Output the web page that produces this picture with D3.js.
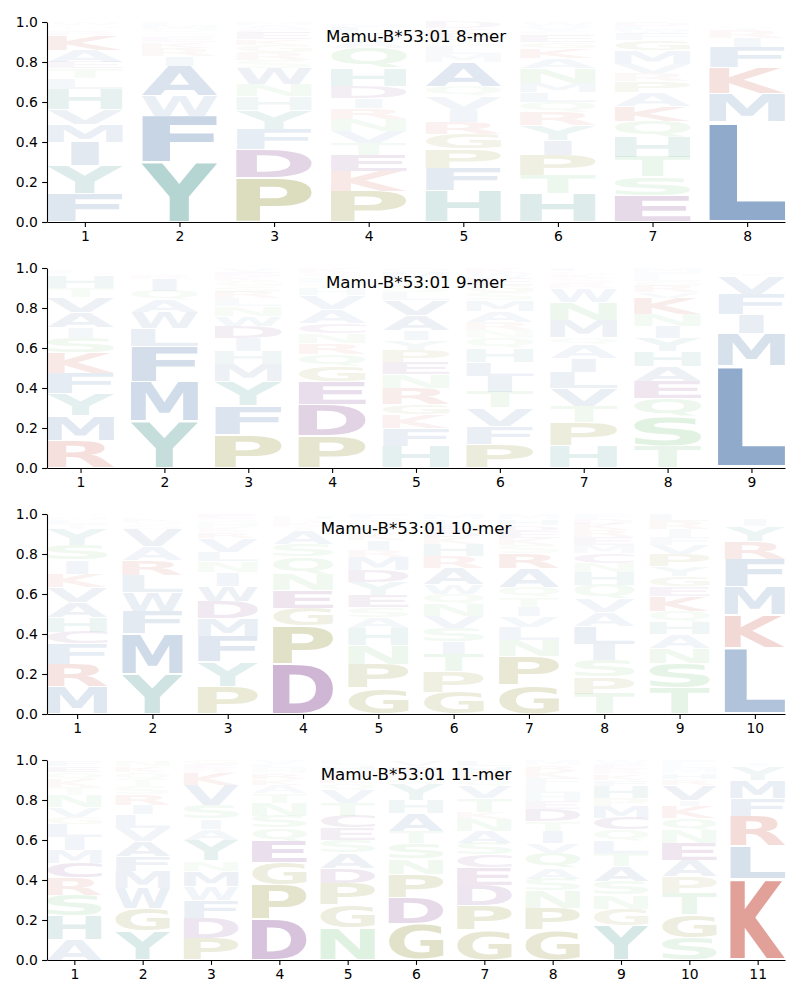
<!DOCTYPE html>
<html><head><meta charset="utf-8">
<script src="https://cdn.jsdelivr.net/npm/d3@7"></script>
<style>body{margin:0;background:#fff}svg{display:block}</style>
</head><body>
<svg id="chart" width="800" height="1000"></svg>
<script>
// ---- data: each position lists [residue, probability] from bottom to top ----
const titles = ["Mamu-B*53:01 8-mer","Mamu-B*53:01 9-mer","Mamu-B*53:01 10-mer","Mamu-B*53:01 11-mer"];
const yTicks = [0,0.2,0.4,0.6,0.8,1.0];

const mer8 = [
 [["F",.14],["Y",.14],["I",.12],["M",.09],["V",.075],["H",.10],["L",.055],["T",.05],["E",.03],["A",.06],["K",.075],["R",.02],["S",.015],["G",.015],["W",.015]],
 [["Y",.30],["F",.23],["W",.10],["A",.15],["I",.05],["R",.04],["K",.03],["E",.025],["S",.02],["Q",.02],["M",.02],["L",.015]],
 [["P",.22],["D",.145],["F",.10],["Y",.095],["H",.07],["N",.06],["W",.08],["S",.04],["R",.04],["G",.035],["K",.03],["E",.03],["C",.02],["A",.02],["M",.015]],
 [["P",.155],["K",.10],["E",.08],["T",.06],["V",.06],["N",.06],["R",.055],["I",.05],["D",.06],["H",.09],["Q",.10],["A",.04],["S",.03],["L",.03],["M",.02],["F",.01]],
 [["H",.155],["F",.115],["P",.095],["G",.075],["R",.06],["I",.06],["V",.07],["Q",.045],["A",.125],["M",.04],["L",.04],["S",.03],["E",.03],["K",.03],["D",.03]],
 [["H",.14],["T",.095],["P",.10],["I",.075],["Y",.075],["R",.065],["Q",.05],["L",.05],["M",.045],["N",.075],["A",.05],["K",.05],["G",.03],["E",.03],["S",.025],["V",.025],["W",.02]],
 [["E",.13],["S",.095],["T",.10],["H",.10],["Q",.08],["K",.075],["A",.07],["P",.055],["R",.04],["V",.045],["M",.07],["G",.05],["F",.03],["W",.02],["L",.02],["D",.02]],
 [["L",.50],["M",.14],["K",.13],["F",.105],["I",.045],["R",.04],["Y",.015],["V",.01],["Q",.01],["A",.005]]
];
const mer9 = [
 [["R",.135],["M",.125],["Y",.11],["F",.105],["K",.10],["S",.075],["I",.055],["A",.075],["V",.075],["T",.045],["H",.06],["Q",.015],["L",.015],["N",.01]],
 [["Y",.235],["M",.195],["F",.18],["L",.09],["W",.08],["A",.06],["Q",.045],["I",.06],["R",.02],["S",.015],["K",.01],["N",.01]],
 [["P",.165],["F",.145],["Y",.125],["M",.085],["H",.065],["I",.065],["D",.06],["W",.05],["N",.05],["L",.04],["R",.03],["S",.03],["G",.025],["K",.025],["E",.02],["V",.02]],
 [["P",.16],["D",.155],["E",.115],["G",.08],["Q",.06],["R",.055],["N",.05],["C",.05],["A",.07],["V",.07],["H",.03],["T",.03],["L",.025],["S",.025],["K",.025]],
 [["H",.11],["F",.09],["K",.07],["G",.05],["R",.08],["N",.07],["E",.06],["P",.06],["Y",.05],["I",.05],["A",.075],["V",.075],["L",.04],["S",.035],["T",.03],["M",.03],["Q",.025]],
 [["P",.12],["F",.09],["V",.09],["T",.08],["I",.08],["L",.07],["H",.07],["Q",.05],["N",.04],["R",.04],["A",.055],["M",.055],["S",.04],["G",.035],["E",.035],["W",.025],["K",.025]],
 [["H",.11],["P",.115],["T",.085],["V",.09],["L",.08],["I",.07],["A",.07],["Q",.035],["M",.085],["N",.09],["W",.07],["R",.025],["S",.025],["K",.02],["G",.015],["E",.015]],
 [["T",.11],["S",.15],["Q",.09],["E",.085],["A",.075],["H",.075],["Y",.065],["I",.06],["N",.06],["K",.08],["V",.03],["R",.03],["G",.025],["L",.025],["F",.02],["M",.02]],
 [["L",.51],["M",.165],["I",.095],["F",.10],["V",.09],["Y",.015],["W",.01],["K",.01],["A",.005]]
];
const mer10 = [
 [["M",.135],["R",.115],["F",.10],["C",.06],["H",.075],["A",.075],["V",.075],["K",.065],["I",.07],["S",.075],["Y",.08],["T",.025],["L",.02],["N",.015],["Q",.015]],
 [["Y",.20],["M",.20],["F",.115],["W",.095],["L",.085],["R",.075],["A",.07],["V",.085],["S",.02],["Q",.02],["K",.015],["I",.01],["N",.01]],
 [["P",.135],["Y",.125],["F",.13],["M",.09],["D",.085],["W",.075],["I",.07],["N",.055],["L",.045],["V",.07],["R",.03],["K",.025],["H",.025],["S",.02],["E",.02]],
 [["D",.25],["P",.19],["G",.09],["E",.09],["N",.08],["Q",.085],["S",.065],["A",.07],["T",.02],["K",.02],["R",.015],["H",.015],["V",.01]],
 [["G",.13],["P",.12],["N",.095],["H",.085],["A",.055],["S",.05],["E",.06],["Y",.065],["D",.06],["M",.065],["R",.035],["I",.05],["K",.03],["T",.03],["L",.025],["Q",.025],["F",.02]],
 [["G",.11],["P",.10],["T",.09],["I",.06],["S",.07],["V",.06],["N",.06],["Q",.05],["W",.05],["A",.08],["R",.06],["H",.06],["K",.035],["D",.03],["E",.03],["L",.03],["M",.025]],
 [["G",.145],["P",.145],["N",.08],["L",.065],["V",.055],["I",.045],["T",.05],["Q",.05],["A",.095],["R",.075],["S",.04],["K",.035],["E",.035],["D",.03],["H",.03],["M",.025]],
 [["T",.10],["P",.085],["S",.085],["I",.08],["L",.09],["A",.07],["V",.065],["Q",.07],["H",.065],["N",.045],["C",.05],["M",.04],["E",.04],["R",.035],["K",.03],["D",.025],["F",.025]],
 [["T",.13],["S",.125],["N",.075],["A",.07],["H",.06],["Q",.055],["K",.075],["E",.05],["G",.05],["Y",.05],["P",.06],["V",.045],["F",.04],["I",.04],["R",.04],["L",.035]],
 [["L",.33],["K",.165],["M",.14],["F",.14],["R",.09],["Y",.075],["I",.035],["V",.01],["W",.01],["Q",.005]]
];
const mer11 = [
 [["A",.10],["H",.12],["S",.105],["R",.085],["C",.075],["M",.065],["I",.065],["L",.065],["G",.035],["V",.05],["N",.06],["T",.04],["K",.04],["Q",.035],["E",.03],["F",.03]],
 [["Y",.145],["G",.115],["W",.10],["M",.085],["F",.075],["A",.075],["V",.065],["L",.07],["I",.045],["R",.055],["S",.04],["T",.035],["Q",.035],["K",.03],["N",.03]],
 [["P",.11],["D",.10],["F",.09],["W",.07],["M",.075],["N",.05],["Y",.105],["A",.055],["I",.05],["S",.07],["V",.10],["K",.06],["R",.025],["E",.02],["G",.02]],
 [["D",.205],["P",.17],["G",.11],["E",.11],["Q",.065],["S",.06],["N",.065],["T",.05],["A",.04],["K",.03],["R",.03],["H",.025],["L",.02],["V",.02]],
 [["N",.16],["G",.115],["P",.11],["D",.075],["A",.075],["S",.065],["E",.06],["C",.06],["T",.065],["V",.065],["Q",.035],["K",.03],["R",.03],["H",.03],["L",.025]],
 [["G",.18],["D",.13],["P",.12],["N",.075],["S",.08],["T",.06],["A",.09],["H",.065],["Y",.08],["Q",.03],["K",.03],["E",.03],["V",.03]],
 [["G",.15],["P",.125],["D",.10],["E",.085],["C",.065],["S",.06],["A",.06],["N",.06],["K",.035],["T",.07],["V",.06],["Q",.035],["R",.035],["H",.03],["L",.03]],
 [["G",.15],["P",.11],["N",.085],["S",.06],["A",.055],["Q",.075],["V",.05],["I",.06],["T",.05],["D",.06],["E",.04],["H",.04],["L",.04],["F",.035],["K",.035],["R",.03],["M",.025]],
 [["Y",.17],["G",.085],["N",.07],["S",.07],["A",.075],["T",.065],["L",.06],["Q",.055],["C",.06],["M",.06],["P",.04],["H",.06],["F",.03],["K",.03],["R",.025],["E",.025],["W",.02]],
 [["S",.11],["G",.115],["T",.11],["P",.085],["A",.08],["E",.085],["N",.065],["Q",.06],["K",.06],["I",.03],["V",.075],["R",.03],["H",.03],["M",.025],["L",.02],["F",.02]],
 [["K",.405],["L",.165],["R",.15],["F",.09],["M",.09],["Y",.07],["I",.015],["W",.01],["V",.005]]
];
const panels = [mer8, mer9, mer10, mer11];

// ---- styling ----
const groupColor = {
  hydrophobic: "#8FAACA", aromaticPolar: "#8CBEBA", special: "#B4B474",
  acidic: "#A476AE", basic: "#DC9288", polar: "#A2D6A5"
};
const residueGroup = {
  A:"hydrophobic",V:"hydrophobic",L:"hydrophobic",I:"hydrophobic",M:"hydrophobic",F:"hydrophobic",W:"hydrophobic",
  Y:"aromaticPolar",H:"aromaticPolar",P:"special",G:"special",D:"acidic",E:"acidic",C:"acidic",
  K:"basic",R:"basic",S:"polar",T:"polar",N:"polar",Q:"polar"
};
const left = 47, right = 785, plotH = 200;
const tops = [22, 268, 514, 760];
const FONT = "'DejaVu Sans', sans-serif";
const svg = d3.select("#chart");

// glyph ink metrics
const cv = document.createElement("canvas");
const ctx = cv.getContext("2d");
const FS = 200;
ctx.font = `bold ${FS}px 'DejaVu Sans'`;
const metr = {};
function metrics(ch){
  if(!metr[ch]){
    const m = ctx.measureText(ch);
    metr[ch] = {l:m.actualBoundingBoxLeft, r:m.actualBoundingBoxRight, a:m.actualBoundingBoxAscent, d:m.actualBoundingBoxDescent,
      w:m.actualBoundingBoxLeft+m.actualBoundingBoxRight, h:m.actualBoundingBoxAscent+m.actualBoundingBoxDescent};
  }
  return metr[ch];
}
const capW = metrics("E").w;
const vpad = 0.05, glyphWidth = 0.8;

panels.forEach((data, pi) => {
  const n = data.length;
  const top = tops[pi];
  const x = d3.scaleLinear().domain([0.6, n + 0.4]).range([left, right]);
  const y = d3.scaleLinear().domain([0, 1]).range([top + plotH, top]);
  const g = svg.append("g");

  // glyphs
  data.forEach((stack, i) => {
    const pos = i + 1;
    let base = 0;
    stack.forEach(([ch, v]) => {
      const y0 = base, y1 = base + v; base = y1;
      const boxTop = y(y1), boxH = y(y0) - y(y1);
      const inkTop = boxTop + boxH * vpad / 2, inkH = boxH * (1 - vpad);
      const bw = x(pos + glyphWidth/2) - x(pos - glyphWidth/2);
      const m = metrics(ch);
      const sx = bw / Math.max(m.w, capW);
      const sy = inkH / m.h;
      const inkW = m.w * sx;
      const lx = x(pos) - inkW / 2;
      const alpha = Math.min(1, v / 0.47);
      g.append("text")
        .attr("transform", `translate(${lx},${inkTop}) scale(${sx},${sy})`)
        .attr("x", m.l).attr("y", m.a)
        .attr("font-family", FONT).attr("font-weight", "bold").attr("font-size", FS)
        .attr("fill", groupColor[residueGroup[ch]]).attr("fill-opacity", alpha)
        .text(ch);
    });
  });

  // axes
  const ya = d3.axisLeft(y).tickValues(yTicks).tickFormat(d3.format(".1f")).tickSize(4.9).tickPadding(4.2).tickSizeOuter(0);
  const xa = d3.axisBottom(x).tickValues(d3.range(1, n + 1)).tickFormat(d3.format("d")).tickSize(4.9).tickPadding(4.5).tickSizeOuter(0);
  const yg = g.append("g").attr("transform", `translate(${left},0)`).call(ya);
  const xg = g.append("g").attr("transform", `translate(0,${top + plotH})`).call(xa);
  [yg, xg].forEach(a => {
    a.selectAll("text").attr("font-family", FONT).attr("font-size", 13.9).attr("fill", "#000");
    a.selectAll("line").attr("stroke", "#000").attr("stroke-width", 1.1);
    a.select(".domain").attr("stroke", "#000").attr("stroke-width", 1.1);
  });

  g.append("text").attr("x", (left + right) / 2).attr("y", top + 20)
    .attr("text-anchor", "middle").attr("font-family", FONT).attr("font-size", 16.7).attr("fill", "#000")
    .text(titles[pi]);
});
</script>
</body></html>
